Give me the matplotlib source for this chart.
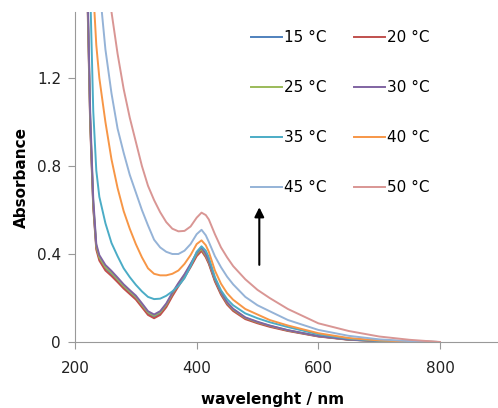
import matplotlib
matplotlib.use("Agg")
import matplotlib.pyplot as plt

plt.rcParams['font.family'] = ['DejaVu Sans']

# wavelength grid (nm)
wl = [215, 220, 225, 230, 235, 240, 250, 260, 270, 280, 290, 300, 310, 320, 330,
      340, 350, 360, 370, 380, 390, 400, 408, 415, 420, 430, 440, 450, 460, 480,
      500, 520, 550, 600, 650, 700, 750, 800]

a15 = [2.6, 1.65, 1.0, 0.62, 0.43, 0.38, 0.335, 0.31, 0.28, 0.25, 0.225, 0.20, 0.165, 0.13, 0.115,
       0.13, 0.165, 0.215, 0.26, 0.30, 0.345, 0.395, 0.42, 0.39, 0.36, 0.28, 0.22, 0.175, 0.145, 0.108,
       0.088, 0.072, 0.052, 0.026, 0.011, 0.004, 0.001, 0.0]
a20 = [2.55, 1.62, 0.98, 0.61, 0.42, 0.37, 0.325, 0.30, 0.272, 0.243, 0.218, 0.193, 0.158, 0.123, 0.108,
       0.123, 0.158, 0.208, 0.253, 0.294, 0.34, 0.39, 0.414, 0.385, 0.355, 0.275, 0.215, 0.17, 0.141, 0.104,
       0.085, 0.069, 0.05, 0.025, 0.01, 0.004, 0.001, 0.0]
a25 = [2.6, 1.66, 1.01, 0.63, 0.435, 0.385, 0.34, 0.315, 0.285, 0.255, 0.23, 0.205, 0.17, 0.135, 0.12,
       0.135, 0.17, 0.22, 0.264, 0.304, 0.35, 0.40, 0.424, 0.394, 0.364, 0.284, 0.224, 0.178, 0.148, 0.11,
       0.09, 0.074, 0.053, 0.027, 0.011, 0.004, 0.001, 0.0]
a30 = [2.65, 1.7, 1.04, 0.65, 0.445, 0.395, 0.35, 0.323, 0.293, 0.262, 0.236, 0.211, 0.176, 0.14, 0.125,
       0.14, 0.175, 0.224, 0.268, 0.308, 0.355, 0.405, 0.43, 0.4, 0.369, 0.288, 0.227, 0.181, 0.151, 0.112,
       0.092, 0.075, 0.054, 0.027, 0.011, 0.004, 0.001, 0.0]
a35 = [3.0, 2.2, 1.6, 1.05, 0.78, 0.66, 0.54, 0.45, 0.39, 0.335, 0.295, 0.26, 0.23, 0.205, 0.195,
       0.197, 0.21, 0.23, 0.255, 0.29, 0.345, 0.41, 0.435, 0.415, 0.385, 0.295, 0.235, 0.195, 0.167, 0.13,
       0.108, 0.09, 0.068, 0.035, 0.015, 0.005, 0.001, 0.0]
a40 = [3.5, 2.6, 2.0, 1.6, 1.35, 1.2, 1.0, 0.83, 0.70, 0.595, 0.515, 0.445, 0.385, 0.335, 0.31,
       0.303, 0.303, 0.31, 0.325, 0.355, 0.395, 0.445, 0.462, 0.44, 0.41, 0.325, 0.265, 0.222, 0.192, 0.15,
       0.125, 0.10, 0.075, 0.04, 0.018, 0.007, 0.002, 0.0]
a45 = [4.0, 3.2, 2.6, 2.2, 1.9, 1.62, 1.33, 1.13, 0.97, 0.86, 0.76, 0.68, 0.60, 0.53, 0.465,
       0.43, 0.41, 0.40, 0.40, 0.415, 0.445, 0.49, 0.51, 0.485, 0.455, 0.39, 0.34, 0.297, 0.262, 0.205,
       0.167, 0.14, 0.10, 0.055, 0.028, 0.012, 0.004, 0.0]
a50 = [5.0, 4.5, 4.0, 3.5, 3.0, 2.4, 1.8, 1.50, 1.31, 1.15, 1.02, 0.91, 0.80, 0.71, 0.645,
       0.59, 0.545, 0.515, 0.503, 0.505, 0.525, 0.565, 0.588, 0.577, 0.557, 0.49, 0.43, 0.385, 0.345, 0.285,
       0.237, 0.20, 0.15, 0.085, 0.05, 0.025, 0.01, 0.0]

series = [a15, a20, a25, a30, a35, a40, a45, a50]
labels = ["15 °C", "20 °C", "25 °C", "30 °C", "35 °C", "40 °C", "45 °C", "50 °C"]
colors = ["#4F81BD", "#C0504D", "#9BBB59", "#8064A2", "#4BACC6", "#F79646", "#95B3D7", "#D99694"]

fig = plt.figure(figsize=(4.98, 4.08), dpi=100)
ax = fig.add_axes([75/498, 66/408, 425.8/498, 330/408])

for y, lab, c in zip(series, labels, colors):
    ax.plot(wl, y, color=c, lw=1.4, label=lab)

ax.set_xlim(200, 900)
ax.set_ylim(0, 1.5)
ax.set_xticks([200, 400, 600, 800])
ax.set_yticks([0, 0.4, 0.8, 1.2])
ax.set_yticklabels(["0", "0.4", "0.8", "1.2"])
for s in ["top", "right"]:
    ax.spines[s].set_visible(False)
for s in ["left", "bottom"]:
    ax.spines[s].set_color("#999999")
ax.tick_params(axis="both", colors="#999999", labelcolor="#222222", labelsize=11, length=5)
ax.tick_params(axis="x", pad=9)
ax.tick_params(axis="y", pad=5)

ax.set_xlabel("wavelenght / nm", fontsize=11, fontweight="bold")
ax.set_ylabel("Absorbance", fontsize=11, fontweight="bold", labelpad=6)
ax.xaxis.set_label_coords(0.463, -0.152)

ax.annotate("", xy=(503, 0.625), xytext=(503, 0.338),
            arrowprops=dict(arrowstyle="-|>", color="black", lw=1.5, mutation_scale=14))

# legend rows: 15/20, 25/30, 35/40, 45/50
handles, labs = ax.get_legend_handles_labels()
idx = [0, 2, 4, 6, 1, 3, 5, 7]
fig.legend([handles[i] for i in idx], [labs[i] for i in idx], ncol=2, frameon=False,
           loc="upper left", bbox_to_anchor=(251/498, 1 - 30/408), fontsize=11,
           handlelength=2.0, handletextpad=0.15, columnspacing=1.8,
           labelspacing=2.3, borderpad=0, borderaxespad=0)

fig.savefig("out.png", dpi=100)
